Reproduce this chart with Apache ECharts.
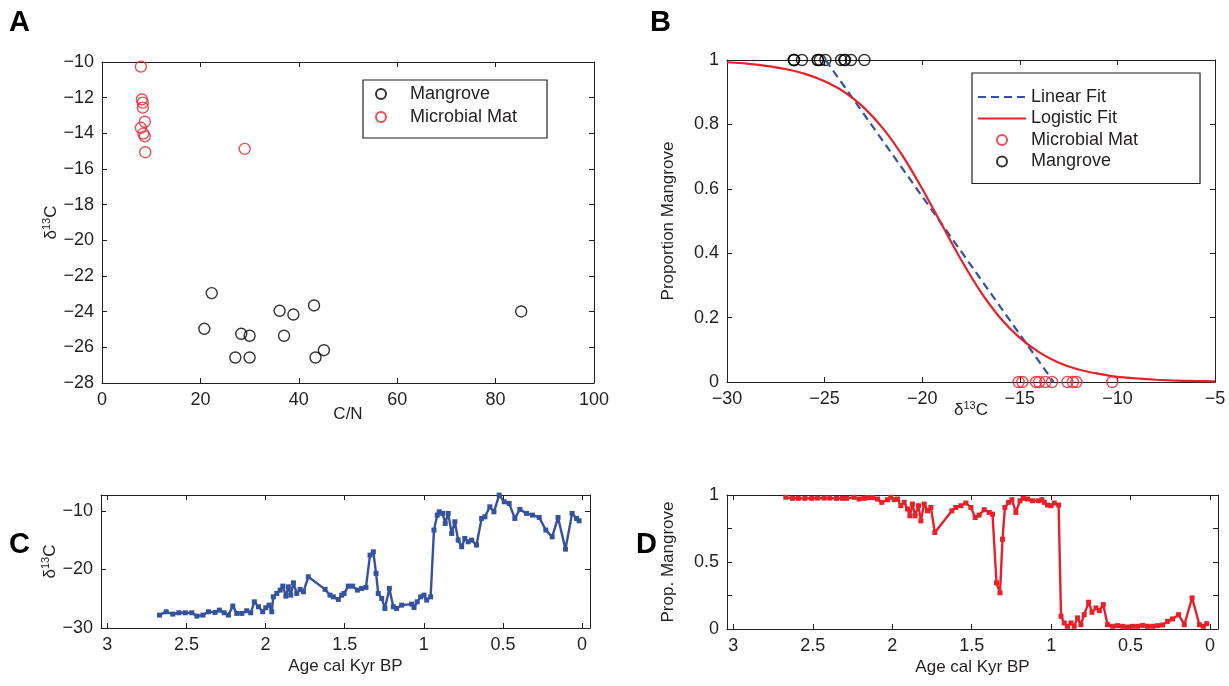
<!DOCTYPE html>
<html><head><meta charset="utf-8">
<script src="https://cdn.jsdelivr.net/npm/echarts@6/dist/echarts.min.js"></script>
<style>html,body{margin:0;padding:0;background:#fff}#c{width:1229px;height:686px}</style>
</head><body><div id="c"></div>
<script>
// ---- Panel A: C/N vs d13C ----
const mangroveCN = [22.3, 20.8, 28.3, 30.0, 27.1, 30.0, 36.1, 38.9, 37.0, 43.1, 43.4, 45.1, 85.2];
const mangroveD13C = [-22.96, -24.96, -25.24, -25.35, -26.57, -26.57, -23.95, -24.16, -25.35, -23.65, -26.57, -26.16, -23.99];
const microbialCN = [7.9, 8.1, 8.3, 8.3, 8.7, 7.9, 8.4, 8.7, 8.8, 29.0];
const microbialD13C = [-10.26, -12.10, -12.28, -12.56, -13.35, -13.69, -14.01, -14.17, -15.06, -14.87];
// ---- Panel B: fits ----
const logisticX = [-30,-29,-28,-27,-26,-25,-24,-23,-22,-21,-20,-19,-18,-17,-16,-15,-14,-13,-12,-11,-10,-9,-8,-7,-6,-5];
const logisticY = [0.993,0.989,0.982,0.972,0.957,0.934,0.901,0.853,0.787,0.702,0.600,0.489,0.379,0.280,0.199,0.137,0.092,0.060,0.039,0.026,0.016,0.011,0.007,0.004,0.003,0.002];
const linearX = [-24.95, -13.27];
const linearY = [1, 0];
const mangroveProp = 1;
const microbialProp = 0;
// ---- Panel C: d13C record ----
const ageC = [2.670,2.628,2.586,2.548,2.508,2.466,2.434,2.396,2.361,2.319,2.292,2.262,2.235,2.207,2.182,2.150,2.119,2.094,2.071,2.045,2.018,1.999,1.978,1.961,1.951,1.929,1.908,1.891,1.872,1.856,1.841,1.824,1.803,1.782,1.761,1.730,1.624,1.593,1.572,1.540,1.519,1.504,1.477,1.450,1.420,1.393,1.366,1.340,1.319,1.302,1.288,1.266,1.246,1.218,1.193,1.172,1.140,1.077,1.062,1.042,1.020,0.999,0.982,0.957,0.936,0.915,0.903,0.881,0.865,0.846,0.824,0.804,0.783,0.761,0.741,0.720,0.698,0.667,0.635,0.614,0.583,0.557,0.524,0.492,0.461,0.425,0.393,0.351,0.313,0.271,0.229,0.189,0.152,0.105,0.063,0.035,0.019];
const d13cC = [-27.8,-27.23,-27.63,-27.4,-27.4,-27.4,-27.97,-27.8,-27.23,-27.34,-26.95,-27.4,-27.8,-26.26,-27.51,-27.51,-27.06,-27.4,-25.53,-26.38,-27.23,-26.55,-26.09,-27.23,-24.68,-24.1,-23.53,-22.85,-24.56,-22.97,-24.39,-22.29,-24.1,-23.41,-23.82,-21.26,-23.41,-24.39,-24.68,-25.12,-24.39,-24.1,-22.85,-22.85,-23.53,-23.24,-23.07,-17.56,-17.0,-20.68,-24.1,-24.95,-26.66,-23.24,-26.38,-26.66,-26.09,-25.92,-26.49,-25.53,-24.68,-24.39,-25.24,-24.68,-13.29,-10.73,-10.17,-10.44,-12.15,-10.44,-13.86,-11.87,-15.0,-16.14,-14.71,-15.29,-15.0,-15.85,-11.3,-11.02,-9.32,-10.17,-7.32,-8.46,-8.74,-11.3,-9.76,-10.44,-10.73,-11.13,-13.29,-14.44,-11.13,-16.54,-10.44,-11.3,-11.7];
// ---- Panel D: proportion mangrove ----
const ageD = [2.670,2.628,2.591,2.549,2.507,2.471,2.429,2.393,2.351,2.314,2.288,2.240,2.208,2.177,2.156,2.125,2.093,2.066,2.030,2.009,1.988,1.967,1.946,1.925,1.904,1.889,1.873,1.856,1.835,1.820,1.799,1.778,1.757,1.732,1.625,1.600,1.568,1.537,1.505,1.478,1.453,1.421,1.390,1.369,1.344,1.322,1.306,1.291,1.268,1.247,1.222,1.196,1.176,1.149,1.117,1.079,1.058,1.043,1.023,1.001,0.980,0.953,0.938,0.918,0.897,0.875,0.855,0.834,0.813,0.792,0.764,0.743,0.718,0.697,0.672,0.645,0.613,0.582,0.550,0.519,0.487,0.456,0.424,0.393,0.361,0.330,0.298,0.267,0.236,0.198,0.162,0.113,0.067,0.042,0.021];
const propD = [0.983,0.975,0.975,0.975,0.975,0.977,0.977,0.977,0.975,0.975,0.975,0.983,0.970,0.975,0.980,0.980,0.970,0.945,0.965,0.983,0.965,0.970,0.920,0.945,0.895,0.845,0.932,0.845,0.920,0.807,0.932,0.882,0.907,0.720,0.882,0.907,0.920,0.940,0.907,0.832,0.850,0.890,0.870,0.857,0.345,0.270,0.670,0.907,0.945,0.965,0.870,0.957,0.975,0.970,0.957,0.957,0.965,0.945,0.925,0.920,0.940,0.925,0.095,0.045,0.020,0.045,0.020,0.083,0.032,0.107,0.200,0.125,0.157,0.137,0.182,0.032,0.020,0.025,0.020,0.015,0.020,0.020,0.027,0.020,0.020,0.025,0.030,0.057,0.075,0.107,0.032,0.232,0.032,0.020,0.040];

const FONT = '"Liberation Sans", Arial, sans-serif';
const TXT = '#231f20';
const RED = '#e8202a';
const BLUE = '#34529f';

const minusFmt = v => { const r = Math.round(v * 1000) / 1000; return (r < 0 ? '\u2212' : '') + String(Math.abs(r)); };
const halfFmt = v => (Math.abs(v * 2 - Math.round(v * 2)) > 1e-6) ? '' : String(Math.round(v * 2) / 2);

const d13Name = '{n|\u03b4}{s|13}{n|C}';
const d13Style = { fontSize: 17, fontFamily: FONT, color: TXT, rich: {
  n: { fontSize: 17, fontFamily: FONT, color: TXT, lineHeight: 20 },
  s: { fontSize: 11, fontFamily: FONT, color: TXT, verticalAlign: 'top', lineHeight: 20 } } };
const nameStyle = { fontSize: 17, fontFamily: FONT, color: TXT };

function ax(o) {
  const base = {
    type: 'value',
    splitLine: { show: false },
    axisLine: { show: true, onZero: false, lineStyle: { color: TXT, width: 1 } },
    axisTick: { show: true, inside: true, length: 5, lineStyle: { color: TXT, width: 1 } },
    axisLabel: { show: true, fontSize: 18, fontFamily: FONT, color: TXT, margin: 8, formatter: minusFmt },
    nameLocation: 'middle',
    nameMoveOverlap: false
  };
  const r = Object.assign({}, base, o);
  if (o.axisLabel) r.axisLabel = Object.assign({}, base.axisLabel, o.axisLabel);
  return r;
}
const noLab = { show: false };
const hideSym = { color: 'rgba(0,0,0,0)', borderColor: 'rgba(0,0,0,0)', borderWidth: 0 };

const option = {
  animation: false,
  backgroundColor: '#fff',
  grid: [
    { left: 102, top: 62, width: 492, height: 321 },
    { left: 727, top: 60, width: 488, height: 322 },
    { left: 101, top: 495, width: 489, height: 133 },
    { left: 727, top: 495, width: 491, height: 134 }
  ],
  xAxis: [
    ax({ gridIndex: 0, min: 0, max: 100, interval: 20, name: 'C/N', nameGap: 23, nameTextStyle: nameStyle }),
    ax({ gridIndex: 0, min: 0, max: 100, interval: 20, position: 'top', axisLabel: noLab }),
    ax({ gridIndex: 1, min: -30, max: -5, interval: 5, name: d13Name, nameGap: 18, nameTextStyle: d13Style }),
    ax({ gridIndex: 1, min: -30, max: -5, interval: 5, position: 'top', axisLabel: noLab }),
    ax({ gridIndex: 2, min: -0.05, max: 3.04, splitNumber: 6, inverse: true, name: 'Age cal Kyr BP', nameGap: 30, nameTextStyle: nameStyle, axisLabel: { formatter: halfFmt, showMinLabel: false, showMaxLabel: false } }),
    ax({ gridIndex: 2, min: -0.05, max: 3.04, splitNumber: 6, inverse: true, position: 'top', axisLabel: noLab }),
    ax({ gridIndex: 3, min: -0.05, max: 3.04, splitNumber: 6, inverse: true, name: 'Age cal Kyr BP', nameGap: 30, nameTextStyle: nameStyle, axisLabel: { formatter: halfFmt, showMinLabel: false, showMaxLabel: false } }),
    ax({ gridIndex: 3, min: -0.05, max: 3.04, splitNumber: 6, inverse: true, position: 'top', axisLabel: noLab })
  ],
  yAxis: [
    ax({ gridIndex: 0, min: -28, max: -10, interval: 2, name: d13Name, nameGap: 41, nameTextStyle: d13Style }),
    ax({ gridIndex: 0, min: -28, max: -10, interval: 2, position: 'right', axisLabel: noLab }),
    ax({ gridIndex: 1, min: 0, max: 1, interval: 0.2, name: 'Proportion Mangrove', nameGap: 50, nameTextStyle: nameStyle }),
    ax({ gridIndex: 1, min: 0, max: 1, interval: 0.2, position: 'right', axisLabel: noLab }),
    ax({ gridIndex: 2, min: -30, max: -7.3, interval: 10, name: d13Name, nameGap: 41, nameTextStyle: d13Style }),
    ax({ gridIndex: 2, min: -30, max: -7.3, interval: 10, position: 'right', axisLabel: noLab }),
    ax({ gridIndex: 3, min: 0, max: 1, interval: 0.25, name: 'Prop. Mangrove', nameGap: 50, nameTextStyle: nameStyle, axisLabel: { formatter: halfFmt } }),
    ax({ gridIndex: 3, min: 0, max: 1, interval: 0.25, position: 'right', axisLabel: noLab })
  ],
  legend: [
    {
      data: ['Mangrove', 'Microbial Mat'],
      orient: 'vertical', left: 363, top: 80,
      itemWidth: 48, itemHeight: 10, itemGap: 5,
      padding: [5, 30, 12, 12],
      borderColor: TXT, borderWidth: 1.2, backgroundColor: '#fff',
      selectedMode: false,
      textStyle: { fontSize: 18, fontFamily: FONT, color: TXT }
    },
    {
      data: [
        { name: 'Linear Fit', itemStyle: hideSym },
        { name: 'Logistic Fit', itemStyle: hideSym },
        'Microbial Mat', 'Mangrove'],
      orient: 'vertical', left: 972, top: 73,
      itemWidth: 48, itemHeight: 10, itemGap: 3.5,
      padding: [15, 62, 13, 5],
      borderColor: TXT, borderWidth: 1.2, backgroundColor: '#fff',
      selectedMode: false,
      textStyle: { fontSize: 18, fontFamily: FONT, color: TXT }
    }
  ],
  graphic: [
    { type: 'text', left: 9, top: 8, style: { text: 'A', font: 'bold 29px "Liberation Sans", Arial', fill: '#000' } },
    { type: 'text', left: 650, top: 8, style: { text: 'B', font: 'bold 29px "Liberation Sans", Arial', fill: '#000' } },
    { type: 'text', left: 9, top: 530, style: { text: 'C', font: 'bold 29px "Liberation Sans", Arial', fill: '#000' } },
    { type: 'text', left: 636, top: 530, style: { text: 'D', font: 'bold 29px "Liberation Sans", Arial', fill: '#000' } }
  ],
  series: [
    { name: 'Mangrove', type: 'scatter', xAxisIndex: 0, yAxisIndex: 0, clip: false, symbol: 'circle', symbolSize: 11,
      itemStyle: { color: 'rgba(0,0,0,0)', borderColor: '#000', borderWidth: 1.4 },
      data: mangroveCN.map((v, i) => [v, mangroveD13C[i]]) },
    { name: 'Microbial Mat', type: 'scatter', xAxisIndex: 0, yAxisIndex: 0, clip: false, symbol: 'circle', symbolSize: 11,
      itemStyle: { color: 'rgba(0,0,0,0)', borderColor: RED, borderWidth: 1.4 },
      data: microbialCN.map((v, i) => [v, microbialD13C[i]]) },
    { name: 'Linear Fit', type: 'line', xAxisIndex: 2, yAxisIndex: 2, symbol: 'none', clip: false,
      itemStyle: { color: BLUE },
      lineStyle: { color: BLUE, width: 2.2, type: [8, 5] },
      data: linearX.map((v, i) => [v, linearY[i]]) },
    { name: 'Logistic Fit', type: 'line', xAxisIndex: 2, yAxisIndex: 2, symbol: 'none', smooth: 0.2, clip: false,
      itemStyle: { color: RED },
      lineStyle: { color: RED, width: 2.2 },
      data: logisticX.map((v, i) => [v, logisticY[i]]) },
    { name: 'Microbial Mat', type: 'scatter', xAxisIndex: 2, yAxisIndex: 2, clip: false, symbol: 'circle', symbolSize: 11,
      itemStyle: { color: 'rgba(0,0,0,0)', borderColor: RED, borderWidth: 1.4 },
      data: microbialD13C.map(v => [v, microbialProp]) },
    { name: 'Mangrove', type: 'scatter', xAxisIndex: 2, yAxisIndex: 2, clip: false, symbol: 'circle', symbolSize: 11,
      itemStyle: { color: 'rgba(0,0,0,0)', borderColor: '#000', borderWidth: 1.4 },
      data: mangroveD13C.map(v => [v, mangroveProp]) },
    { name: 'd13C record', type: 'line', xAxisIndex: 4, yAxisIndex: 4, symbol: 'rect', symbolSize: 5, showAllSymbol: true,
      lineStyle: { color: BLUE, width: 2.4 }, itemStyle: { color: BLUE },
      data: ageC.map((v, i) => [v, d13cC[i]]) },
    { name: 'Proportion record', type: 'line', xAxisIndex: 6, yAxisIndex: 6, symbol: 'rect', symbolSize: 5, showAllSymbol: true, clip: false,
      lineStyle: { color: RED, width: 2.4 }, itemStyle: { color: RED },
      data: ageD.map((v, i) => [v, propD[i]]) }
  ]
};
const chart = echarts.init(document.getElementById('c'), null, { renderer: 'canvas' });
chart.setOption(option);
</script>
</body></html>
